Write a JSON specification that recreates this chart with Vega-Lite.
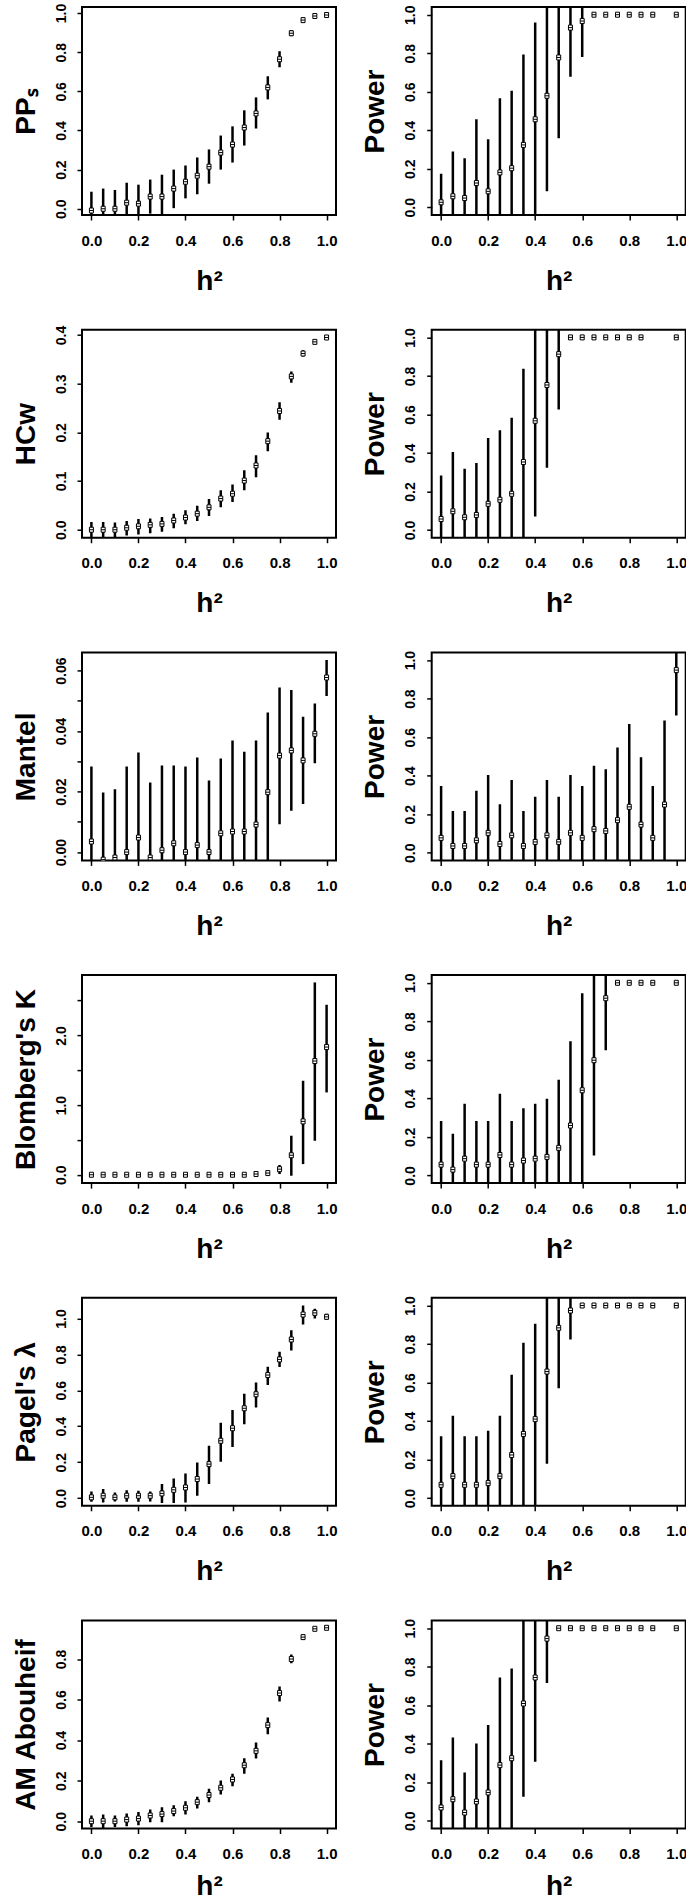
{
"$schema": "https://vega.github.io/schema/vega-lite/v6.json",
"padding": {"left": 11, "top": 2, "right": 0, "bottom": 0},
"background": "white",
"config": {
 "font": "Liberation Sans",
 "view": {"stroke": "black", "strokeWidth": 2},
 "axis": {"domain": false, "grid": false, "ticks": true, "tickColor": "black", "tickWidth": 1.5, "tickSize": 5,
  "labelFont": "Liberation Sans", "labelFontSize": 14, "labelFontWeight": "bold", "labelColor": "black", "labelFlush": false, "labelOverlap": false,
  "titleFont": "Liberation Sans", "titleFontSize": 28, "titleFontWeight": "bold", "titleColor": "black"},
 "axisX": {"labelPadding": 13, "labelFontSize": 15, "labelAngle": 0, "minExtent": 35, "maxExtent": 35, "titlePadding": 17},
 "axisY": {"labelAngle": 270, "labelAlign": "center", "labelBaseline": "bottom", "labelPadding": 9, "minExtent": 30, "maxExtent": 30, "titlePadding": 12, "titleBaseline": "bottom"},
 "rule": {"strokeWidth": 2.5, "color": "black"},
 "point": {"shape": "M-0.8,-1H0.8V1H-0.8ZM-0.8,0H0.8", "filled": true, "fill": "white", "stroke": "black", "strokeWidth": 1, "size": 25, "opacity": 1, "xOffset": -1.5}
},
"data": {"values": [
{"panel":"A1","h2":0,"est":-0.009,"lo":-0.105,"hi":0.087},{"panel":"A1","h2":0.05,"est":0,"lo":-0.103,"hi":0.103},{"panel":"A1","h2":0.1,"est":0,"lo":-0.096,"hi":0.096},{"panel":"A1","h2":0.15,"est":0.031,"lo":-0.071,"hi":0.133},{"panel":"A1","h2":0.2,"est":0.026,"lo":-0.071,"hi":0.123},{"panel":"A1","h2":0.25,"est":0.062,"lo":-0.025,"hi":0.149},{"panel":"A1","h2":0.3,"est":0.062,"lo":-0.05,"hi":0.174},{"panel":"A1","h2":0.35,"est":0.103,"lo":0.003,"hi":0.2},{"panel":"A1","h2":0.4,"est":0.138,"lo":0.053,"hi":0.221},{"panel":"A1","h2":0.45,"est":0.169,"lo":0.074,"hi":0.262},{"panel":"A1","h2":0.5,"est":0.215,"lo":0.128,"hi":0.303},{"panel":"A1","h2":0.55,"est":0.287,"lo":0.2,"hi":0.374},{"panel":"A1","h2":0.6,"est":0.328,"lo":0.236,"hi":0.421},{"panel":"A1","h2":0.65,"est":0.415,"lo":0.323,"hi":0.503},{"panel":"A1","h2":0.7,"est":0.487,"lo":0.41,"hi":0.569},{"panel":"A1","h2":0.75,"est":0.62,"lo":0.559,"hi":0.677},{"panel":"A1","h2":0.8,"est":0.764,"lo":0.723,"hi":0.805},{"panel":"A1","h2":0.85,"est":0.897,"lo":0.882,"hi":0.913},{"panel":"A1","h2":0.9,"est":0.964,"lo":0.952,"hi":0.976},{"panel":"A1","h2":0.95,"est":0.985,"lo":0.978,"hi":0.992},{"panel":"A1","h2":1,"est":0.99,"lo":0.984,"hi":0.996},
{"panel":"A2","h2":0,"est":0.026,"lo":-0.122,"hi":0.174},{"panel":"A2","h2":0.05,"est":0.057,"lo":-0.176,"hi":0.29},{"panel":"A2","h2":0.1,"est":0.048,"lo":-0.159,"hi":0.255},{"panel":"A2","h2":0.15,"est":0.126,"lo":-0.205,"hi":0.457},{"panel":"A2","h2":0.2,"est":0.083,"lo":-0.187,"hi":0.353},{"panel":"A2","h2":0.25,"est":0.181,"lo":-0.204,"hi":0.566},{"panel":"A2","h2":0.3,"est":0.203,"lo":-0.199,"hi":0.605},{"panel":"A2","h2":0.35,"est":0.324,"lo":-0.145,"hi":0.793},{"panel":"A2","h2":0.4,"est":0.457,"lo":-0.045,"hi":0.959},{"panel":"A2","h2":0.45,"est":0.579,"lo":0.083,"hi":1.075},{"panel":"A2","h2":0.5,"est":0.778,"lo":0.359,"hi":1.197},{"panel":"A2","h2":0.55,"est":0.933,"lo":0.678,"hi":1.188},{"panel":"A2","h2":0.6,"est":0.967,"lo":0.781,"hi":1.153},{"panel":"A2","h2":0.65,"est":1,"lo":1,"hi":1},{"panel":"A2","h2":0.7,"est":1,"lo":1,"hi":1},{"panel":"A2","h2":0.75,"est":1,"lo":1,"hi":1},{"panel":"A2","h2":0.8,"est":1,"lo":1,"hi":1},{"panel":"A2","h2":0.85,"est":1,"lo":1,"hi":1},{"panel":"A2","h2":0.9,"est":1,"lo":1,"hi":1},{"panel":"A2","h2":1,"est":1,"lo":1,"hi":1},
{"panel":"B1","h2":0,"est":0,"lo":-0.016,"hi":0.016},{"panel":"B1","h2":0.05,"est":0,"lo":-0.016,"hi":0.016},{"panel":"B1","h2":0.1,"est":0,"lo":-0.015,"hi":0.015},{"panel":"B1","h2":0.15,"est":0.004,"lo":-0.012,"hi":0.018},{"panel":"B1","h2":0.2,"est":0.007,"lo":-0.01,"hi":0.022},{"panel":"B1","h2":0.25,"est":0.01,"lo":-0.007,"hi":0.023},{"panel":"B1","h2":0.3,"est":0.012,"lo":-0.004,"hi":0.026},{"panel":"B1","h2":0.35,"est":0.019,"lo":0.003,"hi":0.033},{"panel":"B1","h2":0.4,"est":0.025,"lo":0.011,"hi":0.04},{"panel":"B1","h2":0.45,"est":0.033,"lo":0.018,"hi":0.049},{"panel":"B1","h2":0.5,"est":0.046,"lo":0.028,"hi":0.063},{"panel":"B1","h2":0.55,"est":0.064,"lo":0.046,"hi":0.081},{"panel":"B1","h2":0.6,"est":0.074,"lo":0.057,"hi":0.093},{"panel":"B1","h2":0.65,"est":0.101,"lo":0.081,"hi":0.122},{"panel":"B1","h2":0.7,"est":0.132,"lo":0.108,"hi":0.153},{"panel":"B1","h2":0.75,"est":0.182,"lo":0.161,"hi":0.2},{"panel":"B1","h2":0.8,"est":0.244,"lo":0.226,"hi":0.262},{"panel":"B1","h2":0.85,"est":0.315,"lo":0.302,"hi":0.325},{"panel":"B1","h2":0.9,"est":0.362,"lo":0.356,"hi":0.369},{"panel":"B1","h2":0.95,"est":0.386,"lo":0.382,"hi":0.39},{"panel":"B1","h2":1,"est":0.395,"lo":0.391,"hi":0.399},
{"panel":"B2","h2":0,"est":0.057,"lo":-0.169,"hi":0.283},{"panel":"B2","h2":0.05,"est":0.097,"lo":-0.211,"hi":0.405},{"panel":"B2","h2":0.1,"est":0.066,"lo":-0.186,"hi":0.318},{"panel":"B2","h2":0.15,"est":0.078,"lo":-0.192,"hi":0.348},{"panel":"B2","h2":0.2,"est":0.136,"lo":-0.206,"hi":0.478},{"panel":"B2","h2":0.25,"est":0.157,"lo":-0.204,"hi":0.518},{"panel":"B2","h2":0.3,"est":0.188,"lo":-0.207,"hi":0.583},{"panel":"B2","h2":0.35,"est":0.353,"lo":-0.131,"hi":0.837},{"panel":"B2","h2":0.4,"est":0.567,"lo":0.07,"hi":1.064},{"panel":"B2","h2":0.45,"est":0.753,"lo":0.323,"hi":1.183},{"panel":"B2","h2":0.5,"est":0.913,"lo":0.626,"hi":1.2},{"panel":"B2","h2":0.55,"est":1,"lo":1,"hi":1},{"panel":"B2","h2":0.6,"est":1,"lo":1,"hi":1},{"panel":"B2","h2":0.65,"est":1,"lo":1,"hi":1},{"panel":"B2","h2":0.7,"est":1,"lo":1,"hi":1},{"panel":"B2","h2":0.75,"est":1,"lo":1,"hi":1},{"panel":"B2","h2":0.8,"est":1,"lo":1,"hi":1},{"panel":"B2","h2":0.85,"est":1,"lo":1,"hi":1},{"panel":"B2","h2":1,"est":1,"lo":1,"hi":1},
{"panel":"C1","h2":0,"est":0.0035,"lo":-0.0213,"hi":0.0283},{"panel":"C1","h2":0.05,"est":-0.0025,"lo":-0.0247,"hi":0.0197},{"panel":"C1","h2":0.1,"est":-0.0018,"lo":-0.0244,"hi":0.0208},{"panel":"C1","h2":0.15,"est":0,"lo":-0.0283,"hi":0.0283},{"panel":"C1","h2":0.2,"est":0.0048,"lo":-0.0233,"hi":0.0329},{"panel":"C1","h2":0.25,"est":-0.0018,"lo":-0.0266,"hi":0.023},{"panel":"C1","h2":0.3,"est":0.0006,"lo":-0.0274,"hi":0.0286},{"panel":"C1","h2":0.35,"est":0.0029,"lo":-0.0228,"hi":0.0286},{"panel":"C1","h2":0.4,"est":0,"lo":-0.0283,"hi":0.0283},{"panel":"C1","h2":0.45,"est":0.0023,"lo":-0.0267,"hi":0.0313},{"panel":"C1","h2":0.5,"est":0,"lo":-0.0237,"hi":0.0237},{"panel":"C1","h2":0.55,"est":0.0062,"lo":-0.0185,"hi":0.0309},{"panel":"C1","h2":0.6,"est":0.0068,"lo":-0.0233,"hi":0.0369},{"panel":"C1","h2":0.65,"est":0.0068,"lo":-0.0196,"hi":0.0332},{"panel":"C1","h2":0.7,"est":0.0091,"lo":-0.0187,"hi":0.0369},{"panel":"C1","h2":0.75,"est":0.0198,"lo":-0.0065,"hi":0.0461},{"panel":"C1","h2":0.8,"est":0.0319,"lo":0.0092,"hi":0.0544},{"panel":"C1","h2":0.85,"est":0.0336,"lo":0.0137,"hi":0.0536},{"panel":"C1","h2":0.9,"est":0.0303,"lo":0.0159,"hi":0.0447},{"panel":"C1","h2":0.95,"est":0.0391,"lo":0.0294,"hi":0.0491},{"panel":"C1","h2":1,"est":0.0577,"lo":0.0516,"hi":0.0635},
{"panel":"C2","h2":0,"est":0.077,"lo":-0.192,"hi":0.346},{"panel":"C2","h2":0.05,"est":0.035,"lo":-0.146,"hi":0.216},{"panel":"C2","h2":0.1,"est":0.035,"lo":-0.146,"hi":0.216},{"panel":"C2","h2":0.15,"est":0.064,"lo":-0.194,"hi":0.322},{"panel":"C2","h2":0.2,"est":0.103,"lo":-0.197,"hi":0.403},{"panel":"C2","h2":0.25,"est":0.045,"lo":-0.162,"hi":0.252},{"panel":"C2","h2":0.3,"est":0.09,"lo":-0.197,"hi":0.377},{"panel":"C2","h2":0.35,"est":0.035,"lo":-0.146,"hi":0.216},{"panel":"C2","h2":0.4,"est":0.056,"lo":-0.178,"hi":0.29},{"panel":"C2","h2":0.45,"est":0.09,"lo":-0.197,"hi":0.377},{"panel":"C2","h2":0.5,"est":0.056,"lo":-0.178,"hi":0.29},{"panel":"C2","h2":0.55,"est":0.103,"lo":-0.197,"hi":0.403},{"panel":"C2","h2":0.6,"est":0.077,"lo":-0.192,"hi":0.346},{"panel":"C2","h2":0.65,"est":0.122,"lo":-0.208,"hi":0.452},{"panel":"C2","h2":0.7,"est":0.113,"lo":-0.207,"hi":0.433},{"panel":"C2","h2":0.75,"est":0.169,"lo":-0.208,"hi":0.546},{"panel":"C2","h2":0.8,"est":0.238,"lo":-0.192,"hi":0.668},{"panel":"C2","h2":0.85,"est":0.146,"lo":-0.204,"hi":0.496},{"panel":"C2","h2":0.9,"est":0.077,"lo":-0.192,"hi":0.346},{"panel":"C2","h2":0.95,"est":0.25,"lo":-0.187,"hi":0.687},{"panel":"C2","h2":1,"est":0.948,"lo":0.713,"hi":1.183},
{"panel":"D1","h2":0,"est":0,"lo":-0.01,"hi":0.01},{"panel":"D1","h2":0.05,"est":0,"lo":-0.01,"hi":0.01},{"panel":"D1","h2":0.1,"est":0,"lo":-0.01,"hi":0.01},{"panel":"D1","h2":0.15,"est":0,"lo":-0.01,"hi":0.01},{"panel":"D1","h2":0.2,"est":0,"lo":-0.01,"hi":0.01},{"panel":"D1","h2":0.25,"est":0,"lo":-0.01,"hi":0.01},{"panel":"D1","h2":0.3,"est":0,"lo":-0.01,"hi":0.01},{"panel":"D1","h2":0.35,"est":0,"lo":-0.01,"hi":0.01},{"panel":"D1","h2":0.4,"est":0,"lo":-0.01,"hi":0.01},{"panel":"D1","h2":0.45,"est":0,"lo":-0.01,"hi":0.01},{"panel":"D1","h2":0.5,"est":0,"lo":-0.01,"hi":0.01},{"panel":"D1","h2":0.55,"est":0,"lo":-0.01,"hi":0.01},{"panel":"D1","h2":0.6,"est":0,"lo":-0.01,"hi":0.01},{"panel":"D1","h2":0.65,"est":0,"lo":-0.01,"hi":0.01},{"panel":"D1","h2":0.7,"est":0.01,"lo":-0.01,"hi":0.03},{"panel":"D1","h2":0.75,"est":0.024,"lo":-0.01,"hi":0.058},{"panel":"D1","h2":0.8,"est":0.08,"lo":0.01,"hi":0.14},{"panel":"D1","h2":0.85,"est":0.28,"lo":-0.014,"hi":0.56},{"panel":"D1","h2":0.9,"est":0.766,"lo":0.153,"hi":1.349},{"panel":"D1","h2":0.95,"est":1.632,"lo":0.488,"hi":2.761},{"panel":"D1","h2":1,"est":1.833,"lo":1.182,"hi":2.44},
{"panel":"D2","h2":0,"est":0.056,"lo":-0.17,"hi":0.282},{"panel":"D2","h2":0.05,"est":0.03,"lo":-0.156,"hi":0.216},{"panel":"D2","h2":0.1,"est":0.087,"lo":-0.198,"hi":0.372},{"panel":"D2","h2":0.15,"est":0.056,"lo":-0.17,"hi":0.282},{"panel":"D2","h2":0.2,"est":0.056,"lo":-0.17,"hi":0.282},{"panel":"D2","h2":0.25,"est":0.106,"lo":-0.212,"hi":0.424},{"panel":"D2","h2":0.3,"est":0.056,"lo":-0.17,"hi":0.282},{"panel":"D2","h2":0.35,"est":0.077,"lo":-0.194,"hi":0.348},{"panel":"D2","h2":0.4,"est":0.087,"lo":-0.198,"hi":0.372},{"panel":"D2","h2":0.45,"est":0.096,"lo":-0.206,"hi":0.398},{"panel":"D2","h2":0.5,"est":0.143,"lo":-0.21,"hi":0.496},{"panel":"D2","h2":0.55,"est":0.259,"lo":-0.178,"hi":0.696},{"panel":"D2","h2":0.6,"est":0.442,"lo":-0.062,"hi":0.946},{"panel":"D2","h2":0.65,"est":0.598,"lo":0.103,"hi":1.093},{"panel":"D2","h2":0.7,"est":0.92,"lo":0.65,"hi":1.19},{"panel":"D2","h2":0.75,"est":1,"lo":1,"hi":1},{"panel":"D2","h2":0.8,"est":1,"lo":1,"hi":1},{"panel":"D2","h2":0.85,"est":1,"lo":1,"hi":1},{"panel":"D2","h2":0.9,"est":1,"lo":1,"hi":1},{"panel":"D2","h2":1,"est":1,"lo":1,"hi":1},
{"panel":"E1","h2":0,"est":0.004,"lo":-0.02,"hi":0.037},{"panel":"E1","h2":0.05,"est":0.013,"lo":-0.024,"hi":0.05},{"panel":"E1","h2":0.1,"est":0.004,"lo":-0.019,"hi":0.031},{"panel":"E1","h2":0.15,"est":0.013,"lo":-0.02,"hi":0.044},{"panel":"E1","h2":0.2,"est":0.013,"lo":-0.02,"hi":0.041},{"panel":"E1","h2":0.25,"est":0.013,"lo":-0.019,"hi":0.037},{"panel":"E1","h2":0.3,"est":0.026,"lo":-0.028,"hi":0.078},{"panel":"E1","h2":0.35,"est":0.046,"lo":-0.028,"hi":0.109},{"panel":"E1","h2":0.4,"est":0.059,"lo":-0.024,"hi":0.137},{"panel":"E1","h2":0.45,"est":0.106,"lo":0.013,"hi":0.198},{"panel":"E1","h2":0.5,"est":0.189,"lo":0.078,"hi":0.291},{"panel":"E1","h2":0.55,"est":0.319,"lo":0.202,"hi":0.42},{"panel":"E1","h2":0.6,"est":0.389,"lo":0.285,"hi":0.491},{"panel":"E1","h2":0.65,"est":0.5,"lo":0.411,"hi":0.581},{"panel":"E1","h2":0.7,"est":0.578,"lo":0.504,"hi":0.643},{"panel":"E1","h2":0.75,"est":0.685,"lo":0.63,"hi":0.731},{"panel":"E1","h2":0.8,"est":0.772,"lo":0.73,"hi":0.815},{"panel":"E1","h2":0.85,"est":0.883,"lo":0.822,"hi":0.935},{"panel":"E1","h2":0.9,"est":1.022,"lo":0.967,"hi":1.072},{"panel":"E1","h2":0.95,"est":1.031,"lo":1.0,"hi":1.054},{"panel":"E1","h2":1,"est":1.009,"lo":0.994,"hi":1.026},
{"panel":"E2","h2":0,"est":0.069,"lo":-0.183,"hi":0.321},{"panel":"E2","h2":0.05,"est":0.114,"lo":-0.2,"hi":0.428},{"panel":"E2","h2":0.1,"est":0.069,"lo":-0.183,"hi":0.321},{"panel":"E2","h2":0.15,"est":0.069,"lo":-0.183,"hi":0.321},{"panel":"E2","h2":0.2,"est":0.078,"lo":-0.194,"hi":0.35},{"panel":"E2","h2":0.25,"est":0.114,"lo":-0.2,"hi":0.428},{"panel":"E2","h2":0.3,"est":0.224,"lo":-0.193,"hi":0.641},{"panel":"E2","h2":0.35,"est":0.333,"lo":-0.141,"hi":0.807},{"panel":"E2","h2":0.4,"est":0.41,"lo":-0.085,"hi":0.905},{"panel":"E2","h2":0.45,"est":0.657,"lo":0.178,"hi":1.136},{"panel":"E2","h2":0.5,"est":0.884,"lo":0.571,"hi":1.197},{"panel":"E2","h2":0.55,"est":0.974,"lo":0.824,"hi":1.124},{"panel":"E2","h2":0.6,"est":1,"lo":1,"hi":1},{"panel":"E2","h2":0.65,"est":1,"lo":1,"hi":1},{"panel":"E2","h2":0.7,"est":1,"lo":1,"hi":1},{"panel":"E2","h2":0.75,"est":1,"lo":1,"hi":1},{"panel":"E2","h2":0.8,"est":1,"lo":1,"hi":1},{"panel":"E2","h2":0.85,"est":1,"lo":1,"hi":1},{"panel":"E2","h2":0.9,"est":1,"lo":1,"hi":1},{"panel":"E2","h2":1,"est":1,"lo":1,"hi":1},
{"panel":"F1","h2":0,"est":0,"lo":-0.028,"hi":0.028},{"panel":"F1","h2":0.05,"est":0,"lo":-0.033,"hi":0.033},{"panel":"F1","h2":0.1,"est":0,"lo":-0.028,"hi":0.028},{"panel":"F1","h2":0.15,"est":0.008,"lo":-0.025,"hi":0.038},{"panel":"F1","h2":0.2,"est":0.013,"lo":-0.02,"hi":0.046},{"panel":"F1","h2":0.25,"est":0.028,"lo":-0.005,"hi":0.058},{"panel":"F1","h2":0.3,"est":0.035,"lo":-0.005,"hi":0.069},{"panel":"F1","h2":0.35,"est":0.05,"lo":0.025,"hi":0.079},{"panel":"F1","h2":0.4,"est":0.066,"lo":0.033,"hi":0.099},{"panel":"F1","h2":0.45,"est":0.094,"lo":0.063,"hi":0.12},{"panel":"F1","h2":0.5,"est":0.129,"lo":0.094,"hi":0.16},{"panel":"F1","h2":0.55,"est":0.165,"lo":0.132,"hi":0.201},{"panel":"F1","h2":0.6,"est":0.206,"lo":0.173,"hi":0.234},{"panel":"F1","h2":0.65,"est":0.276,"lo":0.234,"hi":0.31},{"panel":"F1","h2":0.7,"est":0.347,"lo":0.309,"hi":0.388},{"panel":"F1","h2":0.75,"est":0.474,"lo":0.429,"hi":0.512},{"panel":"F1","h2":0.8,"est":0.632,"lo":0.591,"hi":0.665},{"panel":"F1","h2":0.85,"est":0.8,"lo":0.779,"hi":0.822},{"panel":"F1","h2":0.9,"est":0.908,"lo":0.894,"hi":0.921},{"panel":"F1","h2":0.95,"est":0.949,"lo":0.939,"hi":0.959},{"panel":"F1","h2":1,"est":0.954,"lo":0.944,"hi":0.964},
{"panel":"F2","h2":0,"est":0.069,"lo":-0.177,"hi":0.315},{"panel":"F2","h2":0.05,"est":0.112,"lo":-0.209,"hi":0.433},{"panel":"F2","h2":0.1,"est":0.043,"lo":-0.165,"hi":0.251},{"panel":"F2","h2":0.15,"est":0.1,"lo":-0.201,"hi":0.401},{"panel":"F2","h2":0.2,"est":0.147,"lo":-0.204,"hi":0.498},{"panel":"F2","h2":0.25,"est":0.289,"lo":-0.166,"hi":0.744},{"panel":"F2","h2":0.3,"est":0.325,"lo":-0.141,"hi":0.791},{"panel":"F2","h2":0.35,"est":0.609,"lo":0.125,"hi":1.093},{"panel":"F2","h2":0.4,"est":0.744,"lo":0.306,"hi":1.182},{"panel":"F2","h2":0.45,"est":0.946,"lo":0.715,"hi":1.177},{"panel":"F2","h2":0.5,"est":1,"lo":1,"hi":1},{"panel":"F2","h2":0.55,"est":1,"lo":1,"hi":1},{"panel":"F2","h2":0.6,"est":1,"lo":1,"hi":1},{"panel":"F2","h2":0.65,"est":1,"lo":1,"hi":1},{"panel":"F2","h2":0.7,"est":1,"lo":1,"hi":1},{"panel":"F2","h2":0.75,"est":1,"lo":1,"hi":1},{"panel":"F2","h2":0.8,"est":1,"lo":1,"hi":1},{"panel":"F2","h2":0.85,"est":1,"lo":1,"hi":1},{"panel":"F2","h2":0.9,"est":1,"lo":1,"hi":1},{"panel":"F2","h2":1,"est":1,"lo":1,"hi":1}
]},
"columns": 2,
"spacing": {"row": 114.7, "column": 95.7},
"bounds": "flush",
"concat": [
{"width":254,"height":208,"transform":[{"filter":"datum.panel == 'A1'"}],
 "encoding":{"x":{"field":"h2","type":"quantitative","scale":{"domain":[-0.04,1.04],"nice":false,"zero":false},"axis":{"title":"h²","values":[0,0.2,0.4,0.6,0.8,1],"format":".1f"}}},
 "layer":[
  {"mark":{"type":"rule","clip":true},"encoding":{"y":{"field":"lo","type":"quantitative","scale":{"domain":[-0.032,1.031],"nice":false,"zero":false},"axis":{"title":"PPₛ","values":[0,0.2,0.4,0.6,0.8,1],"format":".1f"}},"y2":{"field":"hi"}}},
  {"mark":{"type":"point","clip":true},"encoding":{"y":{"field":"est","type":"quantitative","scale":{"domain":[-0.032,1.031],"nice":false,"zero":false},"axis":{"title":"PPₛ","values":[0,0.2,0.4,0.6,0.8,1],"format":".1f"}}}}
 ]},
{"width":254,"height":208,"transform":[{"filter":"datum.panel == 'A2'"}],
 "encoding":{"x":{"field":"h2","type":"quantitative","scale":{"domain":[-0.04,1.04],"nice":false,"zero":false},"axis":{"title":"h²","values":[0,0.2,0.4,0.6,0.8,1],"format":".1f"}}},
 "layer":[
  {"mark":{"type":"rule","clip":true},"encoding":{"y":{"field":"lo","type":"quantitative","scale":{"domain":[-0.04,1.04],"nice":false,"zero":false},"axis":{"title":"Power","values":[0,0.2,0.4,0.6,0.8,1],"format":".1f"}},"y2":{"field":"hi"}}},
  {"mark":{"type":"point","clip":true},"encoding":{"y":{"field":"est","type":"quantitative","scale":{"domain":[-0.04,1.04],"nice":false,"zero":false},"axis":{"title":"Power","values":[0,0.2,0.4,0.6,0.8,1],"format":".1f"}}}}
 ]},
{"width":254,"height":208,"transform":[{"filter":"datum.panel == 'B1'"}],
 "encoding":{"x":{"field":"h2","type":"quantitative","scale":{"domain":[-0.04,1.04],"nice":false,"zero":false},"axis":{"title":"h²","values":[0,0.2,0.4,0.6,0.8,1],"format":".1f"}}},
 "layer":[
  {"mark":{"type":"rule","clip":true},"encoding":{"y":{"field":"lo","type":"quantitative","scale":{"domain":[-0.0164,0.411],"nice":false,"zero":false},"axis":{"title":"HCw","values":[0,0.1,0.2,0.3,0.4],"format":".1f"}},"y2":{"field":"hi"}}},
  {"mark":{"type":"point","clip":true},"encoding":{"y":{"field":"est","type":"quantitative","scale":{"domain":[-0.0164,0.411],"nice":false,"zero":false},"axis":{"title":"HCw","values":[0,0.1,0.2,0.3,0.4],"format":".1f"}}}}
 ]},
{"width":254,"height":208,"transform":[{"filter":"datum.panel == 'B2'"}],
 "encoding":{"x":{"field":"h2","type":"quantitative","scale":{"domain":[-0.04,1.04],"nice":false,"zero":false},"axis":{"title":"h²","values":[0,0.2,0.4,0.6,0.8,1],"format":".1f"}}},
 "layer":[
  {"mark":{"type":"rule","clip":true},"encoding":{"y":{"field":"lo","type":"quantitative","scale":{"domain":[-0.04,1.04],"nice":false,"zero":false},"axis":{"title":"Power","values":[0,0.2,0.4,0.6,0.8,1],"format":".1f"}},"y2":{"field":"hi"}}},
  {"mark":{"type":"point","clip":true},"encoding":{"y":{"field":"est","type":"quantitative","scale":{"domain":[-0.04,1.04],"nice":false,"zero":false},"axis":{"title":"Power","values":[0,0.2,0.4,0.6,0.8,1],"format":".1f"}}}}
 ]},
{"width":254,"height":208,"transform":[{"filter":"datum.panel == 'C1'"}],
 "encoding":{"x":{"field":"h2","type":"quantitative","scale":{"domain":[-0.04,1.04],"nice":false,"zero":false},"axis":{"title":"h²","values":[0,0.2,0.4,0.6,0.8,1],"format":".1f"}}},
 "layer":[
  {"mark":{"type":"rule","clip":true},"encoding":{"y":{"field":"lo","type":"quantitative","scale":{"domain":[-0.00275,0.066],"nice":false,"zero":false},"axis":{"title":"Mantel","values":[0,0.01,0.02,0.03,0.04,0.05,0.06],"format":".2f","labelExpr":"round(datum.value*100) % 2 == 0 ? datum.label : ''"}},"y2":{"field":"hi"}}},
  {"mark":{"type":"point","clip":true},"encoding":{"y":{"field":"est","type":"quantitative","scale":{"domain":[-0.00275,0.066],"nice":false,"zero":false},"axis":{"title":"Mantel","values":[0,0.01,0.02,0.03,0.04,0.05,0.06],"format":".2f","labelExpr":"round(datum.value*100) % 2 == 0 ? datum.label : ''"}}}}
 ]},
{"width":254,"height":208,"transform":[{"filter":"datum.panel == 'C2'"}],
 "encoding":{"x":{"field":"h2","type":"quantitative","scale":{"domain":[-0.04,1.04],"nice":false,"zero":false},"axis":{"title":"h²","values":[0,0.2,0.4,0.6,0.8,1],"format":".1f"}}},
 "layer":[
  {"mark":{"type":"rule","clip":true},"encoding":{"y":{"field":"lo","type":"quantitative","scale":{"domain":[-0.04,1.04],"nice":false,"zero":false},"axis":{"title":"Power","values":[0,0.2,0.4,0.6,0.8,1],"format":".1f"}},"y2":{"field":"hi"}}},
  {"mark":{"type":"point","clip":true},"encoding":{"y":{"field":"est","type":"quantitative","scale":{"domain":[-0.04,1.04],"nice":false,"zero":false},"axis":{"title":"Power","values":[0,0.2,0.4,0.6,0.8,1],"format":".1f"}}}}
 ]},
{"width":254,"height":208,"transform":[{"filter":"datum.panel == 'D1'"}],
 "encoding":{"x":{"field":"h2","type":"quantitative","scale":{"domain":[-0.04,1.04],"nice":false,"zero":false},"axis":{"title":"h²","values":[0,0.2,0.4,0.6,0.8,1],"format":".1f"}}},
 "layer":[
  {"mark":{"type":"rule","clip":true},"encoding":{"y":{"field":"lo","type":"quantitative","scale":{"domain":[-0.12,2.866],"nice":false,"zero":false},"axis":{"title":"Blomberg's K","values":[0,0.5,1,1.5,2,2.5],"format":".1f","labelExpr":"round(datum.value*2) % 2 == 0 ? datum.label : ''"}},"y2":{"field":"hi"}}},
  {"mark":{"type":"point","clip":true},"encoding":{"y":{"field":"est","type":"quantitative","scale":{"domain":[-0.12,2.866],"nice":false,"zero":false},"axis":{"title":"Blomberg's K","values":[0,0.5,1,1.5,2,2.5],"format":".1f","labelExpr":"round(datum.value*2) % 2 == 0 ? datum.label : ''"}}}}
 ]},
{"width":254,"height":208,"transform":[{"filter":"datum.panel == 'D2'"}],
 "encoding":{"x":{"field":"h2","type":"quantitative","scale":{"domain":[-0.04,1.04],"nice":false,"zero":false},"axis":{"title":"h²","values":[0,0.2,0.4,0.6,0.8,1],"format":".1f"}}},
 "layer":[
  {"mark":{"type":"rule","clip":true},"encoding":{"y":{"field":"lo","type":"quantitative","scale":{"domain":[-0.04,1.04],"nice":false,"zero":false},"axis":{"title":"Power","values":[0,0.2,0.4,0.6,0.8,1],"format":".1f"}},"y2":{"field":"hi"}}},
  {"mark":{"type":"point","clip":true},"encoding":{"y":{"field":"est","type":"quantitative","scale":{"domain":[-0.04,1.04],"nice":false,"zero":false},"axis":{"title":"Power","values":[0,0.2,0.4,0.6,0.8,1],"format":".1f"}}}}
 ]},
{"width":254,"height":208,"transform":[{"filter":"datum.panel == 'E1'"}],
 "encoding":{"x":{"field":"h2","type":"quantitative","scale":{"domain":[-0.04,1.04],"nice":false,"zero":false},"axis":{"title":"h²","values":[0,0.2,0.4,0.6,0.8,1],"format":".1f"}}},
 "layer":[
  {"mark":{"type":"rule","clip":true},"encoding":{"y":{"field":"lo","type":"quantitative","scale":{"domain":[-0.043,1.115],"nice":false,"zero":false},"axis":{"title":"Pagel's λ","values":[0,0.2,0.4,0.6,0.8,1],"format":".1f"}},"y2":{"field":"hi"}}},
  {"mark":{"type":"point","clip":true},"encoding":{"y":{"field":"est","type":"quantitative","scale":{"domain":[-0.043,1.115],"nice":false,"zero":false},"axis":{"title":"Pagel's λ","values":[0,0.2,0.4,0.6,0.8,1],"format":".1f"}}}}
 ]},
{"width":254,"height":208,"transform":[{"filter":"datum.panel == 'E2'"}],
 "encoding":{"x":{"field":"h2","type":"quantitative","scale":{"domain":[-0.04,1.04],"nice":false,"zero":false},"axis":{"title":"h²","values":[0,0.2,0.4,0.6,0.8,1],"format":".1f"}}},
 "layer":[
  {"mark":{"type":"rule","clip":true},"encoding":{"y":{"field":"lo","type":"quantitative","scale":{"domain":[-0.04,1.04],"nice":false,"zero":false},"axis":{"title":"Power","values":[0,0.2,0.4,0.6,0.8,1],"format":".1f"}},"y2":{"field":"hi"}}},
  {"mark":{"type":"point","clip":true},"encoding":{"y":{"field":"est","type":"quantitative","scale":{"domain":[-0.04,1.04],"nice":false,"zero":false},"axis":{"title":"Power","values":[0,0.2,0.4,0.6,0.8,1],"format":".1f"}}}}
 ]},
{"width":254,"height":208,"transform":[{"filter":"datum.panel == 'F1'"}],
 "encoding":{"x":{"field":"h2","type":"quantitative","scale":{"domain":[-0.04,1.04],"nice":false,"zero":false},"axis":{"title":"h²","titlePadding":9,"values":[0,0.2,0.4,0.6,0.8,1],"format":".1f"}}},
 "layer":[
  {"mark":{"type":"rule","clip":true},"encoding":{"y":{"field":"lo","type":"quantitative","scale":{"domain":[-0.036,0.99],"nice":false,"zero":false},"axis":{"title":"AM Abouheif","values":[0,0.2,0.4,0.6,0.8],"format":".1f"}},"y2":{"field":"hi"}}},
  {"mark":{"type":"point","clip":true},"encoding":{"y":{"field":"est","type":"quantitative","scale":{"domain":[-0.036,0.99],"nice":false,"zero":false},"axis":{"title":"AM Abouheif","values":[0,0.2,0.4,0.6,0.8],"format":".1f"}}}}
 ]},
{"width":254,"height":208,"transform":[{"filter":"datum.panel == 'F2'"}],
 "encoding":{"x":{"field":"h2","type":"quantitative","scale":{"domain":[-0.04,1.04],"nice":false,"zero":false},"axis":{"title":"h²","titlePadding":9,"values":[0,0.2,0.4,0.6,0.8,1],"format":".1f"}}},
 "layer":[
  {"mark":{"type":"rule","clip":true},"encoding":{"y":{"field":"lo","type":"quantitative","scale":{"domain":[-0.04,1.04],"nice":false,"zero":false},"axis":{"title":"Power","values":[0,0.2,0.4,0.6,0.8,1],"format":".1f"}},"y2":{"field":"hi"}}},
  {"mark":{"type":"point","clip":true},"encoding":{"y":{"field":"est","type":"quantitative","scale":{"domain":[-0.04,1.04],"nice":false,"zero":false},"axis":{"title":"Power","values":[0,0.2,0.4,0.6,0.8,1],"format":".1f"}}}}
 ]}
]
}
